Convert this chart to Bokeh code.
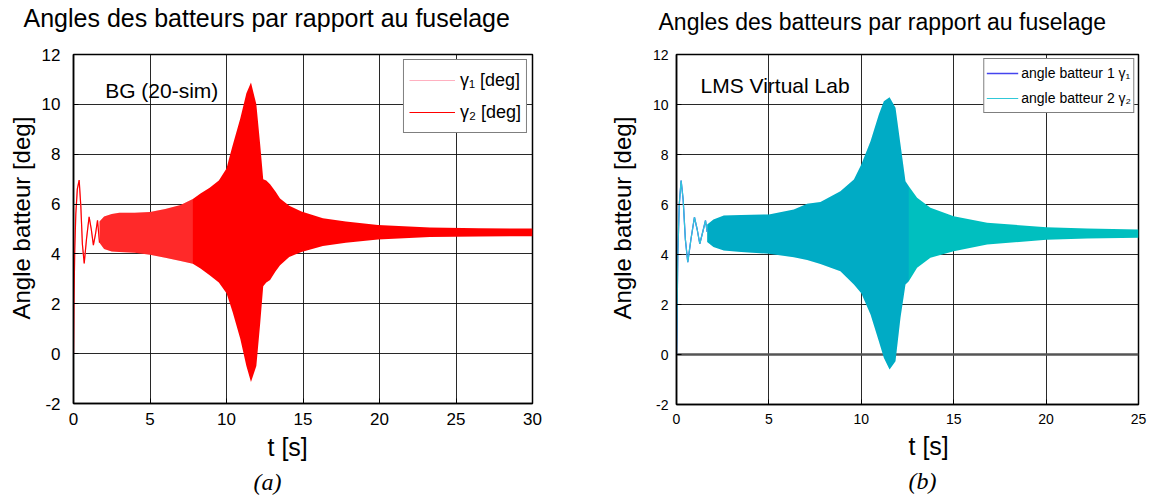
from bokeh.plotting import figure
from bokeh.models import (Label, Span, Range1d, SingleIntervalTicker, Legend, LegendItem,
                          Title, PrintfTickFormatter)
from bokeh.layouts import row
from bokeh.embed import file_html
from bokeh.resources import INLINE

# ---------------- data ----------------
# (a) BG (20-sim): initial transient, then envelope of the dense oscillation
a_trans_t = [0, 0.03, 0.08, 0.15, 0.25, 0.37, 0.48, 0.58, 0.70, 0.85, 1.02, 1.16, 1.30, 1.44, 1.57, 1.70]
a_trans_v = [0, 2.0, 4.1, 5.6, 6.6, 6.96, 5.9, 4.4, 3.62, 4.6, 5.49, 5.0, 4.35, 4.8, 5.35, 4.45]
a_env_t = [1.7, 2.0, 2.5, 3.0, 4.0, 5.0, 6.0, 7.0, 7.8, 8.3, 8.9, 9.5, 10.0, 10.2, 10.4, 10.9, 11.3,
           11.6, 11.95, 12.2, 12.4, 12.6, 12.85, 13.2, 13.5, 14.1, 14.9, 16.3, 17.8, 19.9, 23.3, 26.5, 30.0]
a_env_hi = [5.3, 5.5, 5.6, 5.65, 5.65, 5.68, 5.8, 5.96, 6.2, 6.42, 6.65, 6.95, 7.43, 7.9, 8.35, 9.43, 10.45,
            10.88, 10.0, 8.4, 7.0, 6.95, 6.8, 6.5, 6.22, 5.93, 5.7, 5.43, 5.3, 5.16, 5.06, 5.03, 5.02]
a_env_lo = [4.45, 4.2, 4.1, 4.08, 4.05, 3.97, 3.85, 3.72, 3.61, 3.42, 3.14, 2.85, 2.42, 2.05, 1.67, 0.6, -0.5,
            -1.14, -0.5, 1.2, 2.7, 2.85, 2.95, 3.3, 3.55, 3.88, 4.08, 4.32, 4.45, 4.58, 4.68, 4.7, 4.71]
a_split = 8  # individual stripes visible up to t = 7.8 s

# (b) LMS Virtual Lab
b_trans_t = [0, 0.03, 0.07, 0.15, 0.25, 0.36, 0.48, 0.61, 0.78, 0.97, 1.12, 1.26, 1.42, 1.57, 1.66]
b_trans_v = [0, 1.5, 4.0, 6.0, 6.96, 6.2, 4.6, 3.69, 4.6, 5.49, 5.0, 4.43, 4.9, 5.36, 4.9]
b_env_t = [1.66, 2.0, 2.56, 3.5, 5.0, 6.35, 7.07, 7.79, 8.87, 9.6, 10.0, 10.5, 10.95, 11.22, 11.53,
           11.85, 12.12, 12.39, 12.57, 13.02, 13.74, 15.0, 16.81, 20.02, 22.22, 25.0]
b_env_hi = [5.2, 5.4, 5.56, 5.58, 5.6, 5.8, 6.03, 6.1, 6.53, 7.0, 7.6, 8.53, 9.6, 10.13, 10.29,
            9.87, 8.4, 6.93, 6.73, 6.27, 5.87, 5.53, 5.27, 5.09, 5.04, 5.0]
b_env_lo = [4.5, 4.3, 4.16, 4.1, 4.03, 3.89, 3.78, 3.62, 3.33, 2.8, 2.45, 1.6, 0.53, -0.13, -0.6,
            -0.27, 1.47, 2.8, 2.93, 3.47, 3.87, 4.13, 4.4, 4.59, 4.64, 4.67]
b_split = 18  # blue stripes visible up to t = 12.57 s

title_text = "Angles des batteurs par rapport au fuselage"
ylabel_text = "Angle batteur [deg]"
xlabel_text = "t [s]"
a_legend = ["\u03b3\u2081 [deg]", "\u03b3\u2082 [deg]"]
b_legend = ["angle batteur 1 \u03b3\u2081", "angle batteur 2 \u03b3\u2082"]

SANS = "Liberation Sans"


def base_fig(xmax, fw, fh, bl, bt, br, bb, tick_px, ystand):
    p = figure(output_backend="svg", toolbar_location=None, title=None,
               x_range=Range1d(0, xmax), y_range=Range1d(-2, 12),
               frame_width=fw, frame_height=fh,
               min_border_left=bl, min_border_top=bt, min_border_right=br, min_border_bottom=bb)
    p.xaxis.ticker = SingleIntervalTicker(interval=5)
    p.yaxis.ticker = SingleIntervalTicker(interval=2)
    for ax in (p.xaxis[0], p.yaxis[0]):
        ax.formatter = PrintfTickFormatter(format="%d")
        ax.major_tick_in = 5
        ax.major_tick_out = 0
        ax.minor_tick_line_color = None
        ax.axis_line_width = 1.5
        ax.axis_line_color = "black"
        ax.major_tick_line_color = "black"
        ax.major_label_text_font = SANS
        ax.major_label_text_font_size = tick_px
        ax.major_label_text_color = "black"
    p.xaxis[0].major_label_standoff = 5
    p.yaxis[0].major_label_standoff = ystand
    p.outline_line_color = "black"
    p.outline_line_width = 1.5
    p.outline_line_alpha = 1
    p.xgrid.grid_line_color = "#111111"
    p.ygrid.grid_line_color = "#111111"
    p.xgrid.grid_line_alpha = 0.9
    p.ygrid.grid_line_alpha = 0.9
    p.background_fill_color = "white"
    p.border_fill_color = "white"
    return p


def set_texts(p, title_px, title_off, spacer, ylab_off, ylab_standoff, xlab_off, cap_text, cap_off):
    # spacer between frame and title (closest to the frame), then the title itself
    p.add_layout(Title(text=" ", text_font_size="1px", standoff=spacer), "above")
    p.add_layout(Title(text=title_text, align="left", offset=title_off, text_font=SANS,
                       text_font_size=title_px, text_font_style="normal", text_color="black",
                       vertical_align="top", standoff=6), "above")
    p.add_layout(Title(text=ylabel_text, align="left", offset=ylab_off, text_font=SANS,
                       text_font_size="24px", text_font_style="normal", text_color="black",
                       standoff=ylab_standoff), "left")
    p.add_layout(Title(text=xlabel_text, align="left", offset=xlab_off, text_font=SANS,
                       text_font_size="25px", text_font_style="normal", text_color="black",
                       standoff=6), "below")
    p.add_layout(Title(text=cap_text, align="left", offset=cap_off, text_font="Liberation Serif",
                       text_font_size="24px", text_font_style="italic", text_color="black",
                       standoff=6), "below")


def add_label(p, x, y, txt, size):
    p.add_layout(Label(x=x, y=y, text=txt, text_font=SANS, text_font_size=size,
                       text_align="left", text_baseline="alphabetic", text_color="black"))


# ---------------- (a) ----------------
p1 = base_fig(30, 459, 349, 73, 52, 58, 96, "17px", 9)
set_texts(p1, "25px", -50, 15, 84, 8, 194, "(a)", 180)
p1.varea(x=a_env_t, y1=a_env_lo, y2=a_env_hi, fill_color="#ff0000")
p1.varea(x=a_env_t[:a_split + 1], y1=a_env_lo[:a_split + 1], y2=a_env_hi[:a_split + 1],
         fill_color="white", fill_alpha=0.16)
r_a1 = p1.line(a_trans_t, a_trans_v, line_color="#ffb0c0", line_width=1.2)
r_a2 = p1.line(a_trans_t, a_trans_v, line_color="#ff0000", line_width=1.2)
leg1 = Legend(items=[LegendItem(label=a_legend[0], renderers=[r_a1]),
                     LegendItem(label=a_legend[1], renderers=[r_a2])],
              location="top_right", margin=5, padding=5, spacing=2,
              glyph_width=46, glyph_height=30, label_height=30, label_standoff=5,
              label_text_font=SANS, label_text_font_size="18px", label_text_color="black",
              border_line_color="black", border_line_width=1.5, background_fill_alpha=1)
p1.add_layout(leg1)
add_label(p1, 2.07, 10.55, "BG (20-sim)", "21px")

# ---------------- (b) ----------------
p2 = base_fig(25, 462, 350, 86, 52, 12, 95, "14px", 4)
set_texts(p2, "23px", -18, 12, 85, 27, 232, "(b)", 232)
p2.add_layout(Span(location=0, dimension="width", line_color="#555555", line_width=2.5, level="underlay"))
p2.varea(x=b_env_t, y1=b_env_lo, y2=b_env_hi, fill_color="#00bfbf")
p2.varea(x=b_env_t[:b_split + 1], y1=b_env_lo[:b_split + 1], y2=b_env_hi[:b_split + 1],
         fill_color="#0000ff", fill_alpha=0.1)
r_b1 = p2.line(b_trans_t, b_trans_v, line_color="#4444ee", line_width=1.3)
r_b2 = p2.line(b_trans_t, b_trans_v, line_color="#30c8d8", line_width=1.2)
leg2 = Legend(items=[LegendItem(label=b_legend[0], renderers=[r_b1]),
                     LegendItem(label=b_legend[1], renderers=[r_b2])],
              location="top_right", margin=4, padding=2, spacing=1,
              glyph_width=32, glyph_height=24, label_height=24, label_standoff=3,
              label_text_font=SANS, label_text_font_size="14px", label_text_color="black",
              border_line_color="black", border_line_width=1.2, background_fill_alpha=1)
p2.add_layout(leg2)
add_label(p2, 1.3, 10.75, "LMS Virtual Lab", "21px")

layout = row(p1, p2)
open("out.html", "w").write(file_html(layout, INLINE))
